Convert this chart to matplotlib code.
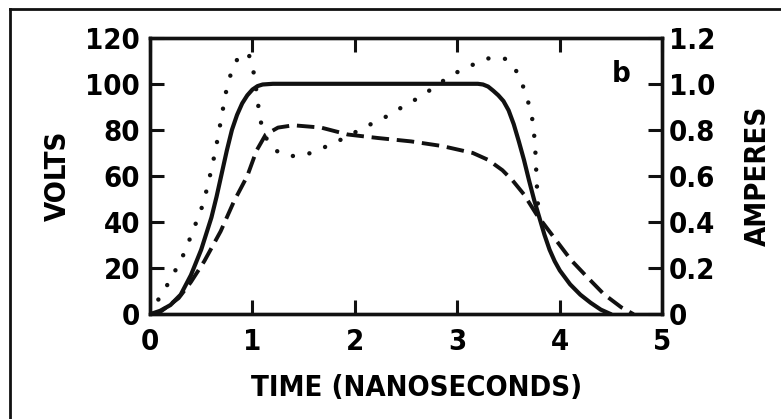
#
# pulse waveform plot (volts / amperes vs time)
#

import matplotlib
matplotlib.use('Agg')
import matplotlib.pyplot as plt
from matplotlib.lines import Line2D

# solid trace
t_solid = [0, 0.1, 0.2, 0.3, 0.4, 0.5, 0.6, 0.65, 0.7, 0.75, 0.8, 0.85, 0.9, 0.95,
           1.0, 1.05, 1.1, 1.2, 3.2, 3.25, 3.3, 3.35, 3.4, 3.45, 3.5, 3.55, 3.6,
           3.65, 3.7, 3.75, 3.8, 3.85, 3.9, 3.95, 4.0, 4.1, 4.2, 4.3, 4.4, 4.5]
v_solid = [0, 1.5, 4, 8.5, 17, 28, 42, 51, 61, 71, 80, 86.5, 91.5, 95,
           97.5, 99, 99.7, 100, 100, 99.7, 98.8, 97, 95, 92.5, 88.5, 82.5, 75,
           67, 58, 49.5, 42, 34.5, 28, 23, 19, 13, 8.5, 5, 2, 0]

# dashed trace
t_dashed = [0, 0.1, 0.28, 0.4, 0.53, 0.69, 0.82, 0.95, 1.04, 1.13, 1.25, 1.4,
            1.67, 1.93, 2.22, 2.55, 2.85, 3.15, 3.3, 3.44, 3.54, 3.65, 3.77,
            3.94, 4.11, 4.27, 4.43, 4.6, 4.72]
v_dashed = [0, 1, 7, 14, 23, 36, 49, 60, 71, 78, 81, 82,
            81, 78, 76.5, 75, 73, 70, 67, 62.5, 58, 52, 43.5,
            33.5, 23.5, 16, 8.7, 3, 0]

# dotted trace
t_dotted = [0, 0.09, 0.18, 0.26, 0.34, 0.40, 0.47, 0.52, 0.57, 0.62, 0.66, 0.70,
            0.74, 0.78, 0.83, 0.88, 0.93, 0.97, 1.0, 1.03, 1.05, 1.07, 1.1, 1.15,
            1.2, 1.3, 1.45, 1.57, 1.71, 1.83, 1.96, 2.2, 2.34, 2.45, 2.57, 2.68,
            2.82, 2.95, 3.09, 3.21, 3.34, 3.47, 3.56, 3.61, 3.67, 3.70, 3.74,
            3.76, 3.77, 3.78, 3.79]
v_dotted = [0, 7, 13.5, 20, 27, 34, 42, 48, 57, 67, 76, 86,
            96, 103, 109, 112.5, 113.5, 112, 108, 100, 93, 86, 80, 75,
            72, 69, 68.5, 70, 72.6, 75, 78, 83.5, 86.5, 89.6, 92.6, 95.6,
            100, 104, 107, 109.5, 111.6, 110.8, 107, 102, 96, 90.5, 83,
            72, 62, 52, 45]

volt_ticks = [0, 20, 40, 60, 80, 100, 120]
amp_ticks = [0, 0.2, 0.4, 0.6, 0.8, 1.0, 1.2]
amp_labels = ['0', '0.2', '0.4', '0.6', '0.8', '1.0', '1.2']
time_ticks = [0, 1, 2, 3, 4, 5]

ink = '#111111'
font = dict(family='DejaVu Sans', weight='bold', stretch='condensed', size=21)

fig = plt.figure(figsize=(7.81, 4.19), dpi=100)
ax = fig.add_axes([0.192, 0.25, 0.656, 0.66])

ax.plot(t_solid, v_solid, color=ink, lw=3.0, solid_capstyle='round',
        solid_joinstyle='round')
ax.plot(t_dashed, v_dashed, color=ink, lw=2.8, dashes=(4.5, 2.0))
ax.plot(t_dotted, v_dotted, color=ink, lw=3.2, dashes=(0.01, 3.8),
        dash_capstyle='round')

ax.set_xlim(0, 5)
ax.set_ylim(0, 120)
ax.set_xticks(time_ticks)
ax.set_xticklabels([str(t) for t in time_ticks], fontdict=font)
ax.set_yticks(volt_ticks)
ax.set_yticklabels([str(v) for v in volt_ticks], fontdict=font)
ax.tick_params(axis='both', direction='in', length=10, width=2.2, color=ink)
ax.tick_params(axis='x', top=True, pad=10)
ax.tick_params(axis='y', pad=7)
for sp in ax.spines.values():
    sp.set_linewidth(2.4)
    sp.set_color(ink)

ax2 = ax.twinx()
ax2.set_ylim(0, 1.2)
ax2.set_yticks(amp_ticks)
ax2.set_yticklabels(amp_labels, fontdict=font)
ax2.tick_params(axis='y', direction='in', length=10, width=2.2, color=ink, pad=5)
for sp in ax2.spines.values():
    sp.set_linewidth(2.4)
    sp.set_color(ink)

ax.set_xlabel('TIME (NANOSECONDS)', fontdict=font)
ax.xaxis.set_label_coords(0.52, -0.215)
ax.set_ylabel('VOLTS', fontdict=font, labelpad=10)
ax2.set_ylabel('AMPERES', fontdict=font, labelpad=20)
ax.text(0.92, 0.87, 'b', transform=ax.transAxes, fontdict=font, ha='center', va='center')

# frame around the picture (left and top edges only)
fig.add_artist(Line2D([0.013, 0.013], [0, 0.979], transform=fig.transFigure, color=ink, lw=2))
fig.add_artist(Line2D([0.013, 1.0], [0.979, 0.979], transform=fig.transFigure, color=ink, lw=2))

fig.savefig('out.png', dpi=100)
